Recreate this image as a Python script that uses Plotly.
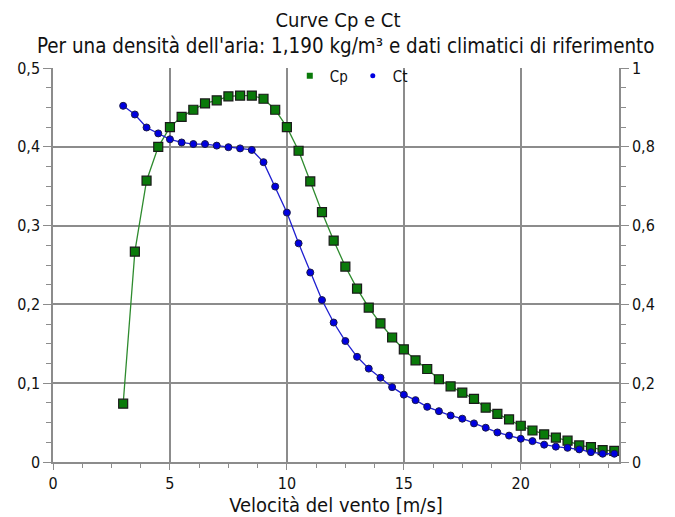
import plotly.graph_objects as go

wind_speed = [3, 3.5, 4, 4.5, 5, 5.5, 6, 6.5, 7, 7.5, 8, 8.5, 9, 9.5, 10, 10.5, 11, 11.5,
              12, 12.5, 13, 13.5, 14, 14.5, 15, 15.5, 16, 16.5, 17, 17.5, 18, 18.5, 19,
              19.5, 20, 20.5, 21, 21.5, 22, 22.5, 23, 23.5, 24]
cp_values = [0.074, 0.267, 0.357, 0.400, 0.425, 0.438, 0.447, 0.455, 0.459, 0.464, 0.465,
             0.465, 0.461, 0.447, 0.425, 0.395, 0.356, 0.317, 0.281, 0.248, 0.220, 0.196,
             0.176, 0.158, 0.143, 0.129, 0.118, 0.105, 0.096, 0.088, 0.080, 0.069, 0.061,
             0.054, 0.046, 0.040, 0.035, 0.031, 0.027, 0.021, 0.019, 0.015, 0.014]
ct_values = [0.904, 0.882, 0.849, 0.834, 0.819, 0.811, 0.807, 0.807, 0.803, 0.799, 0.796,
             0.792, 0.761, 0.699, 0.633, 0.555, 0.481, 0.411, 0.354, 0.307, 0.267, 0.237,
             0.214, 0.190, 0.171, 0.157, 0.140, 0.129, 0.118, 0.110, 0.098, 0.087, 0.075,
             0.067, 0.059, 0.053, 0.044, 0.039, 0.036, 0.032, 0.025, 0.021, 0.021]

title_main = "Curve Cp e Ct"
title_sub = "Per una densità dell'aria: 1,190 kg/m³ e dati climatici di riferimento"
x_title = "Velocità del vento [m/s]"

FONT = "DejaVu Sans Condensed, DejaVu Sans, sans-serif"
GREEN = "#0a7a0a"
BLUE = "#0000e0"
AXIS = "#8c8c8c"

fig = go.Figure()
fig.add_trace(go.Scatter(
    x=wind_speed, y=cp_values, mode="lines+markers", name="Cp", showlegend=False,
    line=dict(color="#2e8b2e", width=1.3),
    marker=dict(symbol="square", size=9, color=GREEN, line=dict(color="#1a1a1a", width=1.2)),
    yaxis="y"))
fig.add_trace(go.Scatter(
    x=wind_speed, y=ct_values, mode="lines+markers", name="Ct", showlegend=False,
    line=dict(color="#1f1fd0", width=1.3),
    marker=dict(symbol="circle", size=7, color=BLUE, line=dict(color="#1a1a4a", width=1)),
    yaxis="y2"))
# legend entries (markers only)
fig.add_trace(go.Scatter(x=[None], y=[None], mode="markers", name="Cp",
                         marker=dict(symbol="square", size=6, color=GREEN)))
fig.add_trace(go.Scatter(x=[None], y=[None], mode="markers", name="Ct",
                         marker=dict(symbol="circle", size=5, color=BLUE)))

fig.update_layout(
    width=675, height=517,
    margin=dict(l=53, r=56, t=68, b=55, autoexpand=False),
    paper_bgcolor="white", plot_bgcolor="white",
    separators=",.",
    font=dict(family=FONT, size=16, color="#111111"),
    title=dict(text=title_main, x=338 / 675, xanchor="center", xref="container",
               y=1 - 20 / 517, yanchor="middle", yref="container",
               font=dict(family=FONT, size=20, color="#111111")),
    annotations=[dict(text=title_sub, xref="paper", yref="paper", x=(346 - 53) / 566,
                      y=(462 - 46) / 394, xanchor="center", yanchor="middle", showarrow=False,
                      font=dict(family=FONT, size=20.4, color="#111111"))],
    showlegend=True,
    legend=dict(orientation="h", x=0.527, xanchor="center", y=(462 - 76) / 394, yanchor="middle",
                bgcolor="rgba(0,0,0,0)", font=dict(family=FONT, size=15),
                itemwidth=30, tracegroupgap=0),
    xaxis=dict(range=[0, 24.2], dtick=5, tick0=0, showgrid=True, gridcolor=AXIS, gridwidth=1.5,
               zeroline=False, showline=True, linecolor=AXIS, linewidth=1.5,
               ticks="outside", ticklen=6, tickcolor=AXIS,
               minor=dict(dtick=1.25, ticks="outside", ticklen=4, tickcolor=AXIS, showgrid=False),
               title=dict(text=x_title, font=dict(family=FONT, size=20), standoff=4),
               tickfont=dict(family=FONT, size=16)),
    yaxis=dict(range=[0, 0.5], dtick=0.1, tick0=0, showgrid=True, gridcolor=AXIS, gridwidth=1.5,
               zeroline=False, showline=True, linecolor=AXIS, linewidth=1.5,
               ticks="outside", ticklen=8, tickcolor=AXIS,
               minor=dict(dtick=0.025, ticks="outside", ticklen=5, tickcolor=AXIS, showgrid=False),
               tickfont=dict(family=FONT, size=16)),
    yaxis2=dict(range=[0, 1], dtick=0.2, tick0=0, overlaying="y", side="right",
                showgrid=False, zeroline=False, showline=True, linecolor=AXIS, linewidth=1.5,
                ticks="outside", ticklen=8, tickcolor=AXIS,
                minor=dict(dtick=0.05, ticks="outside", ticklen=5, tickcolor=AXIS),
                tickfont=dict(family=FONT, size=16)),
)

fig.write_html("out.html", config={"displayModeBar": False},
               post_script="document.body.style.margin='0';")
